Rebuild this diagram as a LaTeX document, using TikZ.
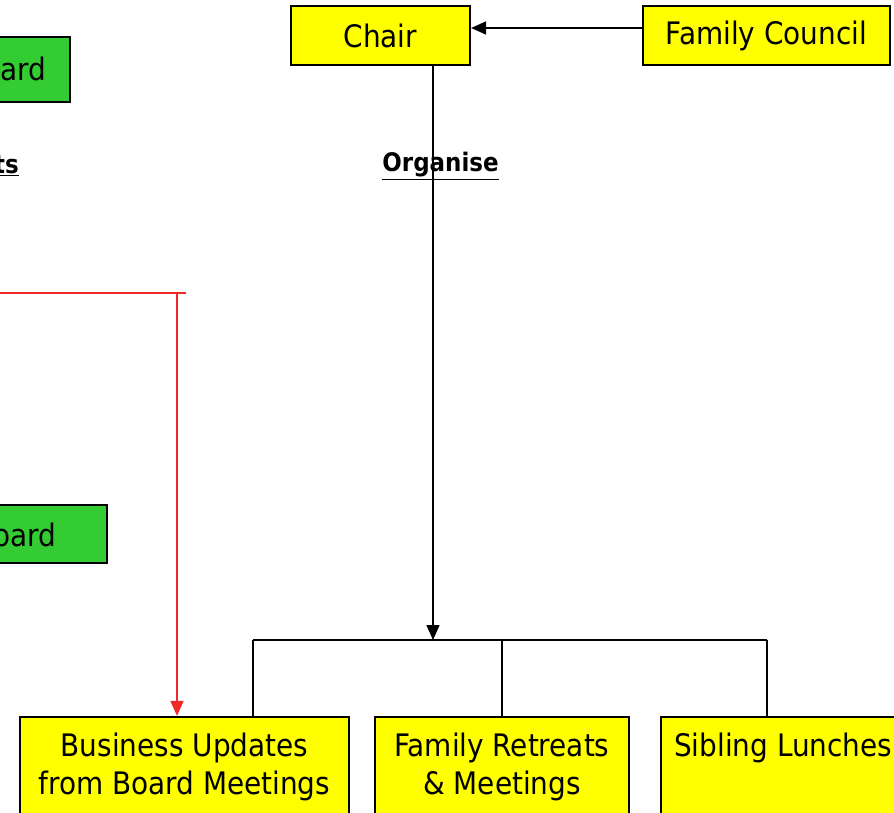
\documentclass[tikz,border=0pt]{standalone}
\usepackage{fontspec}
\setmainfont{DejaVu Sans Condensed}
\usetikzlibrary{arrows.meta}
\definecolor{boxyellow}{RGB}{255,255,0}
\definecolor{boxgreen}{RGB}{51,204,51}
\definecolor{linered}{RGB}{240,40,40}
\begin{document}
\begin{tikzpicture}[x=1pt,y=-1pt,
  ybox/.style={draw=black,line width=2.2pt,fill=boxyellow},
  gbox/.style={draw=black,line width=2.2pt,fill=boxgreen},
  boxtext/.style={font=\fontsize{31}{38}\selectfont,align=center,inner sep=0pt},
  lbl/.style={font=\fontsize{25.5}{30}\bfseries\selectfont,inner sep=0pt},
  conn/.style={line width=1.5pt,draw=black},
  tip/.style={-{Triangle[length=15pt,width=13pt]}}]
\useasboundingbox (0,0) rectangle (894,813);
\clip (0,0) rectangle (894,813);
% boxes
\draw[gbox] (-30,37) rectangle (70,102);
\node[boxtext,anchor=east] (g1t) at (46,69) {ard};
\draw[gbox] (-30,505) rectangle (107,563);
\node[boxtext,anchor=east] (g2t) at (56,535) {oard};
\node[ybox,minimum width=179pt,minimum height=59pt,inner sep=0pt] (chair) at (380.5,35.5) {};
\node[boxtext] at (chair) {Chair};
\node[ybox,minimum width=247pt,minimum height=59pt,inner sep=0pt] (fc) at (766.5,35.5) {};
\node[boxtext] at (fc) {Family Council};
\node[ybox,minimum width=329pt,minimum height=110pt,inner sep=0pt] (bu) at (184.5,772) {};
\node[boxtext] at (184.5,767) {Business Updates\\from Board Meetings};
\node[ybox,minimum width=254pt,minimum height=110pt,inner sep=0pt] (fr) at (502,772) {};
\node[boxtext] at (502,767) {Family Retreats\\\& Meetings};
\node[ybox,minimum width=260pt,minimum height=110pt,inner sep=0pt] (sl) at (791,772) {};
\node[boxtext,anchor=west] (slt) at (674,748) {Sibling Lunches};
% labels
\node[lbl,anchor=east] (ts) at (19,166) {\underline{ts}};
\node[lbl] (org) at (440.5,166) {\underline{Organise}};
% connectors
\coordinate (fcl) at (fc.west |- 0,28);
\coordinate (chr) at (chair.east |- 0,28);
\draw[conn,tip] (fcl) -- (chr);
\coordinate (hub) at (433,640);
\draw[conn,tip] (chair.south -| hub) -- (hub);
\coordinate (hl) at (253,640);
\coordinate (hr) at (767,640);
\draw[conn] (hl) -- (hr);
\draw[conn] (hl) -- (hl |- bu.north);
\draw[conn] (502,640) -- (fr.north);
\draw[conn] (hr) -- (hr |- sl.north);
\coordinate (r0) at (0,293);
\coordinate (r1) at (186,293);
\coordinate (rc) at (177,293);
\draw[line width=1.5pt,draw=linered] (r0) -- (r1);
\draw[line width=1.5pt,draw=linered,tip] (rc) -- (rc |- bu.north);
\end{tikzpicture}
\end{document}
